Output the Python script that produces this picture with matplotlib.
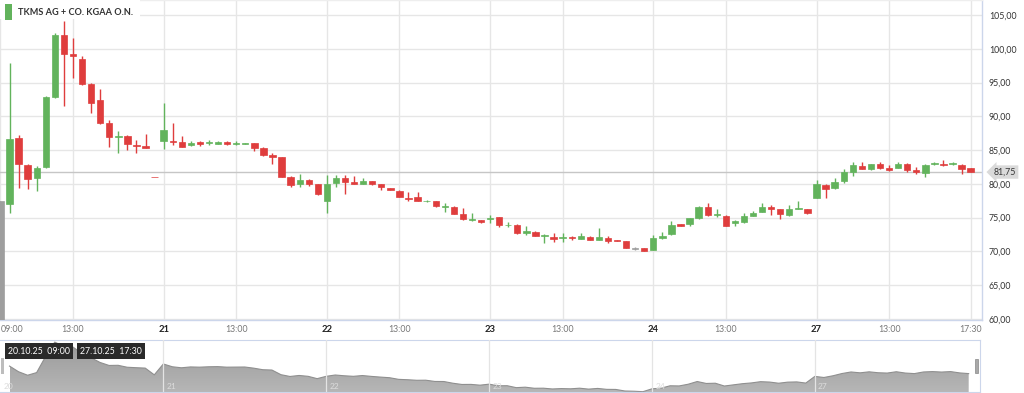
import numpy as np
import matplotlib
matplotlib.use("Agg")
from matplotlib import pyplot as plt
from matplotlib.patches import Rectangle
from matplotlib.colors import LinearSegmentedColormap
import matplotlib.transforms as mtransforms

plt.rcParams['font.family'] = ['Lato', 'DejaVu Sans']

# 30-minute candles, 20.10.25 09:00 .. 27.10.25 17:30 (18 per day)
opens = [77.4, 77.0, 86.75, 82.75, 80.9, 82.45, 92.9, 102.05, 99.2, 98.5,
         94.75, 92.4, 89.05, 86.95, 87.1, 85.75, 85.55, 81.05,
         86.4, 86.35, 86.15, 85.7, 86.25, 86.05, 85.95, 86.15, 85.9, 85.95,
         86.0, 85.25, 84.25, 83.95, 80.95, 79.95, 80.6, 79.95,
         77.5, 80.1, 80.85, 80.25, 80.05, 80.4, 80.0, 79.4, 79.0, 77.9,
         78.1, 77.4, 77.4, 76.55, 76.65, 75.5, 74.7, 74.6,
         74.85, 75.05, 73.85, 73.9, 72.7, 72.95, 72.25, 72.2, 72.0, 72.05,
         71.85, 72.2, 71.75, 71.95, 71.65, 71.5, 70.4, 70.45,
         70.2, 71.95, 72.6, 74.0, 74.05, 74.9, 76.65, 75.45, 75.3, 74.2,
         74.4, 75.25, 75.9, 76.65, 76.25, 75.45, 76.3, 76.25,
         77.95, 79.85, 79.35, 80.5, 81.8, 82.7, 82.15, 82.95, 82.4, 82.4,
         83.0, 82.05, 81.65, 82.95, 83.0, 82.95, 82.85, 82.35]
highs = [77.4, 97.9, 87.3, 82.9, 82.7, 93.0, 102.3, 104.15, 101.55, 99.0,
         95.0, 94.0, 89.45, 87.8, 87.25, 86.5, 87.4, 81.05,
         92.0, 89.0, 87.1, 86.4, 86.35, 86.5, 86.35, 86.35, 86.4, 86.05,
         86.05, 85.4, 84.6, 84.05, 81.2, 81.45, 80.75, 80.0,
         81.3, 81.3, 81.3, 81.2, 80.9, 80.5, 80.05, 79.45, 79.1, 78.75,
         78.75, 77.55, 77.45, 77.2, 76.7, 76.4, 75.65, 74.65,
         75.4, 75.1, 74.4, 74.1, 73.75, 73.0, 72.6, 72.7, 72.7, 72.3,
         72.7, 72.35, 73.5, 72.3, 71.7, 71.6, 70.65, 70.5,
         72.45, 72.9, 74.55, 74.1, 75.0, 76.75, 77.2, 76.25, 75.45, 74.6,
         75.75, 76.05, 77.2, 76.8, 76.3, 76.9, 77.4, 76.3,
         80.6, 79.95, 80.85, 82.15, 83.25, 83.25, 83.0, 83.2, 82.8, 83.25,
         83.05, 82.5, 82.9, 83.3, 83.6, 83.2, 82.95, 82.4]
lows = [55.0, 75.7, 79.4, 79.25, 78.95, 82.3, 92.7, 91.5, 95.7, 94.65,
        90.45, 88.85, 85.5, 84.5, 85.0, 84.6, 85.25, 80.95,
        85.1, 85.75, 85.45, 85.6, 85.65, 85.75, 85.85, 85.8, 85.75, 85.9,
        84.9, 84.2, 82.95, 81.0, 79.6, 79.6, 79.7, 78.4,
        75.75, 79.6, 78.5, 79.95, 80.0, 79.9, 79.1, 79.05, 78.0, 77.4,
        77.4, 77.35, 76.65, 75.8, 75.5, 74.7, 74.55, 74.25,
        74.25, 73.65, 73.65, 72.6, 72.45, 72.25, 71.2, 71.45, 71.45, 71.75,
        71.8, 71.7, 71.7, 71.3, 71.5, 70.5, 70.25, 70.05,
        70.15, 71.9, 72.5, 73.75, 73.75, 74.8, 75.25, 75.15, 73.7, 73.75,
        74.2, 75.2, 75.85, 75.4, 74.75, 75.2, 76.25, 75.6,
        77.9, 77.85, 79.2, 80.2, 81.15, 82.2, 82.1, 82.25, 81.95, 82.35,
        81.75, 81.4, 81.0, 82.75, 82.7, 82.75, 81.45, 81.7]
closes = [55.0, 86.6, 82.95, 80.7, 82.4, 92.9, 102.05, 99.2, 98.9, 94.75,
          92.0, 88.95, 87.0, 87.1, 85.85, 85.55, 85.3, 80.95,
          87.95, 86.15, 85.5, 86.05, 85.9, 86.15, 86.25, 85.9, 85.95, 86.0,
          85.25, 84.25, 84.05, 81.05, 79.9, 80.55, 80.0, 78.5,
          80.0, 80.85, 80.35, 80.0, 80.5, 79.95, 79.5, 79.1, 78.05, 77.8,
          77.45, 77.5, 76.7, 76.65, 75.55, 74.75, 74.8, 74.3,
          74.95, 73.9, 73.95, 72.7, 73.0, 72.3, 72.35, 71.85, 72.1, 71.95,
          72.35, 71.75, 72.2, 71.6, 71.55, 70.55, 70.4, 70.1,
          71.95, 72.35, 73.9, 73.8, 74.9, 76.65, 75.4, 75.55, 73.75, 74.5,
          75.25, 75.75, 76.55, 76.3, 75.55, 76.25, 76.4, 75.65,
          79.95, 79.25, 80.35, 81.8, 82.8, 82.25, 82.9, 82.3, 82.1, 82.95,
          82.1, 81.75, 82.8, 83.05, 82.75, 83.05, 82.2, 81.75]

last_price = 81.75
series_name = "TKMS AG + CO. KGAA O.N."

tick_idx = [0, 8, 18, 26, 36, 44, 54, 62, 72, 80, 90, 98, 107]
tick_labels = ['09:00', '13:00', '21', '13:00', '22', '13:00', '23', '13:00',
               '24', '13:00', '27', '13:00', '17:30']
day_idx = [0, 18, 36, 54, 72, 90]
day_labels = ['20', '21', '22', '23', '24', '27']
range_labels = ['20.10.25  09:00', '27.10.25  17:30']

GREEN = '#62b35c'
RED = '#df3d3d'
GRAY = '#9e9e9e'
GRID = '#e6e6e6'
AXLINE = '#ccd6eb'

W, H = 1024, 393
fig = plt.figure(figsize=(W / 100, H / 100), dpi=100)

# main chart: x 0..982 px, y 0..320 px
ax = fig.add_axes([0, (H - 320) / H, 982 / W, 320 / H])
x = np.arange(len(opens))
o = np.array(opens); c = np.array(closes); hi = np.array(highs); lo = np.array(lows)
cols = np.where(c > o, GREEN, np.where(c < o, RED, GRAY)).astype(object)
cols[0] = GRAY

ax.vlines(x, lo, hi, colors=list(cols), linewidth=1, zorder=3)
bottoms = np.minimum(o, c)
heights = np.maximum(np.abs(c - o), 0.12)
ax.bar(x, heights, bottom=bottoms, width=0.7, color=list(cols),
       edgecolor=list(cols), linewidth=0.5, zorder=4)

ax.axhline(last_price, color='#c6c6c6', linewidth=1, zorder=2)

ax.set_xlim(-0.05, 108.25)
ax.set_ylim(59.85, 107.22)
ax.set_yticks(np.arange(60, 106, 5))
ax.set_yticklabels([f"{v:.2f}".replace('.', ',') for v in np.arange(60, 106, 5)])
ax.yaxis.tick_right()
ax.set_xticks(tick_idx)
ax.set_xticklabels(tick_labels)
ax.tick_params(axis='both', length=0, labelsize=6.3, labelcolor='#555555')
ax.tick_params(axis='x', pad=3.5)
ax.tick_params(axis='y', pad=5)
for lab in ax.get_xticklabels():
    if ':' not in lab.get_text():
        lab.set_fontweight('bold')
        lab.set_color('#222222')
        lab.set_fontsize(6.8)
    else:
        lab.set_color('#777777')
ax.get_xticklabels()[0].set_horizontalalignment('left')
for lab in ax.get_yticklabels():
    lab.set_color('#333333')
ax.grid(True, color=GRID, linewidth=1)
ax.set_axisbelow(True)
ax.spines['left'].set_visible(False)
for s in ['top', 'right', 'bottom']:
    ax.spines[s].set_color(AXLINE)
    ax.spines[s].set_linewidth(1)
ax.spines['top'].set_color('#eeeeee')

# last price tag
trans = mtransforms.blended_transform_factory(ax.transAxes, ax.transData)
ax.text(1.012, last_price, f"{last_price:.2f}".replace('.', ','), transform=trans,
        fontsize=6.3, color='#333333', va='center', ha='left',
        bbox=dict(boxstyle='larrow,pad=0.25', fc='#dadada', ec='none'))

# legend box
fig.add_artist(Rectangle((0, 1 - 19 / H), 140 / W, 19 / H, transform=fig.transFigure,
                         fc='white', ec='none', zorder=5))
fig.add_artist(Rectangle((4.5 / W, 1 - 20 / H), 7.5 / W, 16 / H, transform=fig.transFigure,
                         fc=GREEN, ec='none', zorder=6))
fig.text(18 / W, 1 - 12.5 / H, series_name, fontsize=6.6, fontweight='bold',
         color='#333333', va='center', ha='left', zorder=6)

# navigator
nav = fig.add_axes([0, (H - 392) / H, 980 / W, 52 / H])
nav.set_xlim(ax.get_xlim())
ymin, ymax = 69.9, 103.4
nav.set_ylim(ymin, ymax)
nx = x[1:]
ny = c[1:]
poly = nav.fill_between(nx, ny, ymin, color='none', linewidth=0)
cmap = LinearSegmentedColormap.from_list('navgray', ['#b6b6b6', '#999999'])
grad = np.linspace(0, 1, 200).reshape(-1, 1)
im = nav.imshow(grad, extent=[nx[0], nx[-1], ymin, ymax], origin='lower',
                aspect='auto', cmap=cmap, zorder=1)
im.set_clip_path(poly.get_paths()[0], transform=nav.transData)
nav.plot(nx, ny, color='#8f8f8f', linewidth=0.8, zorder=2)
for d, lab in zip(day_idx, day_labels):
    if d > 0:
        nav.axvline(d, color='#e4e4e4', linewidth=0.9, zorder=3)
    nav.text(d + 0.35, ymin + 1.2, lab, fontsize=6, color='#dcdcdc',
             va='bottom', ha='left', zorder=4)
nav.set_xticks([]); nav.set_yticks([])
for s in nav.spines.values():
    s.set_color(AXLINE)
    s.set_linewidth(0.8)
nav.spines['left'].set_visible(False)

# navigator handles
fig.add_artist(Rectangle((1 / W, (H - 374) / H), 3 / W, 16 / H, transform=fig.transFigure,
                         fc='#bdbdbd', ec='none', zorder=6))
fig.add_artist(Rectangle((975 / W, (H - 373) / H), 3 / W, 14 / H, transform=fig.transFigure,
                         fc='#a8a8a8', ec='#888888', linewidth=0.5, zorder=6))

# range labels
box = dict(boxstyle='square,pad=0.35', fc='#2a2a2a', ec='none')
fig.text(8 / W, 1 - 351 / H, range_labels[0], fontsize=6.3, color='white', va='center',
         ha='left', zorder=7, bbox=box)
fig.text(80 / W, 1 - 351 / H, range_labels[1], fontsize=6.3, color='white', va='center',
         ha='left', zorder=7, bbox=box)

fig.savefig('out.png', dpi=100)
